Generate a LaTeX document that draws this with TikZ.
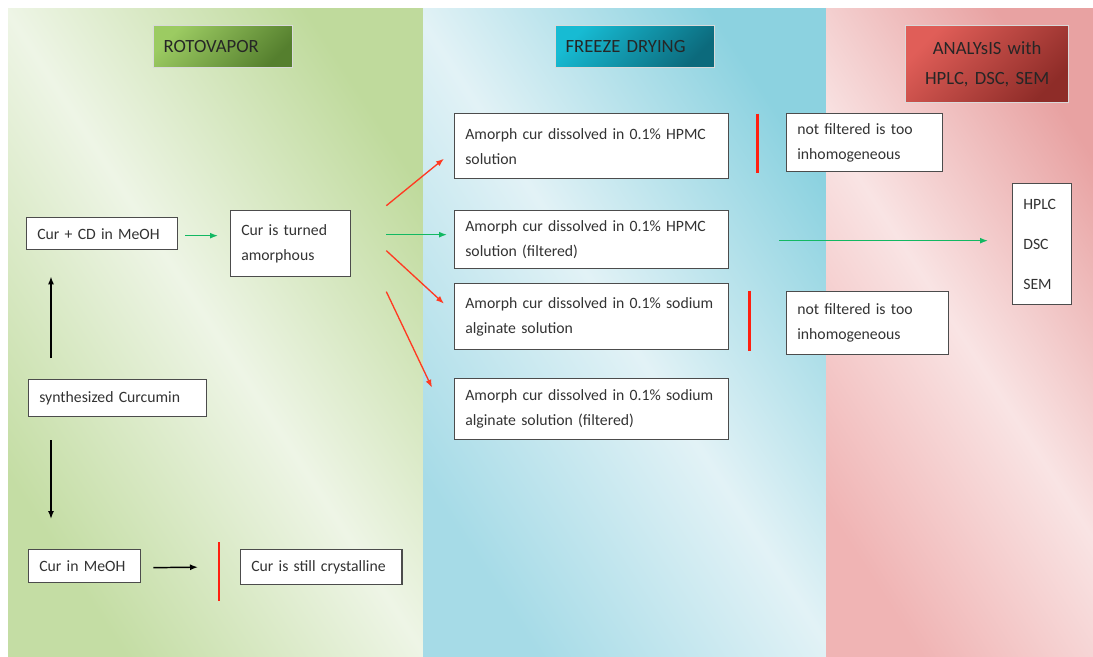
\documentclass[tikz,border=0pt]{standalone}
\usepackage{fontspec,tikz}
\setmainfont{Carlito}
\usetikzlibrary{positioning,calc,arrows.meta}
\tikzset{
	>={Latex[length=6pt,width=4.5pt]},
}
\definecolor{rotolight}{HTML}{9CCB62}
\definecolor{rotodark}{HTML}{557F2E}
\definecolor{frzlight}{HTML}{17BBD3}
\definecolor{frzdark}{HTML}{0C6A7C}
\definecolor{analight}{HTML}{E05E58}
\definecolor{anadark}{HTML}{8E2C28}
\definecolor{grdark}{HTML}{C4DDA4}
\definecolor{grdeep}{HTML}{BFDA9C}
\definecolor{grlight}{HTML}{EEF5E6}
\definecolor{bldark}{HTML}{A6DBE7}
\definecolor{bldeep}{HTML}{8CD2E0}
\definecolor{bllight}{HTML}{E2F2F6}
\definecolor{rddark}{HTML}{F0B4B4}
\definecolor{rddeep}{HTML}{E8A2A2}
\definecolor{rdlight}{HTML}{F9E4E4}
\definecolor{goarrow}{HTML}{12B862}
\definecolor{noarrow}{HTML}{FF3A22}
\definecolor{barred}{HTML}{FF2010}

\begin{document}
\begin{tikzpicture}[x=0.75pt,y=-0.75pt,
		box/.style={rectangle, draw=black!70, line width=1pt, fill=white, inner xsep=8pt, inner ysep=2pt, anchor=north west, align=left, text=black!80, font=\fontsize{11.8}{18.75}\selectfont},
		head/.style 2 args={rectangle, draw=white!85!black, line width=1pt, anchor=north west, inner xsep=7.5pt, text=black!85, font=\fontsize{14}{22.5}\selectfont, top color=#1, bottom color=#2, shading angle=45},
		panel/.style n args={3}{left color=#1, right color=#2, middle color=#3, shading angle=123},
		go/.style={->, draw=goarrow, line width=1.1pt},
		nogo/.style={->, draw=noarrow, line width=1pt},
		flow/.style={->, line width=1.1pt},
		stopbar/.style={draw=barred, line width=2.2pt},
	]
	\useasboundingbox (0,0) rectangle (1093,657);
	% three stages
	\shade[panel={grdark}{grdeep}{grlight}] (8,8) rectangle (423,657);
	\shade[panel={bldark}{bldeep}{bllight}] (423,8) rectangle (826,657);
	\shade[panel={rddark}{rddeep}{rdlight}] (826,8) rectangle (1093,657);

	\path
		node(roto)[head={rotolight}{rotodark}, text width=89.25pt, minimum height=31.5pt] at (153,25) {ROTOVAPOR}
		node(frz)[head={frzlight}{frzdark}, text width=104.25pt, minimum height=31.5pt] at (555,25) {FREEZE DRYING}
		node(ana)[head={analight}{anadark}, text width=107.25pt, minimum height=57.75pt, align=center] at (905,25) {ANALYsIS with\\HPLC, DSC, SEM}
		% rotovapor
		node(cd)[box, text width=97.25pt, minimum height=24pt] at (26,217) {Cur + CD in MeOH}
		node(amorph)[box, text width=74pt, minimum height=49.5pt] at (230,210) {Cur is turned\\amorphous}
		node(synth)[box, text width=117.5pt, minimum height=27.75pt] at (28,379) {synthesized Curcumin}
		node(meoh)[box, text width=68pt, minimum height=24.75pt] at (28,549) {Cur in MeOH}
		node(cryst)[box, text width=105pt, minimum height=26.25pt] at (240,549) {Cur is still crystalline\hfill}
		% freeze drying
		node(hpmc)[box, text width=189.5pt, minimum height=48.75pt] at (454,113) {Amorph cur dissolved in 0.1\% HPMC\\solution}
		node(hpmcf)[box, text width=189.5pt, minimum height=43.5pt] at (454,210) {Amorph cur dissolved in 0.1\% HPMC\\solution (filtered)}
		node(alg)[box, text width=189.5pt, minimum height=49.5pt] at (454,283) {Amorph cur dissolved in 0.1\% sodium\\alginate solution}
		node(algf)[box, text width=189.5pt, minimum height=45.75pt] at (454,378) {Amorph cur dissolved in 0.1\% sodium\\alginate solution (filtered)}
		node(nf1)[box, text width=101pt, minimum height=43.5pt] at (786,113) {not filtered is too\\inhomogeneous}
		node(nf2)[box, text width=105.5pt, minimum height=47.25pt] at (786,291) {not filtered is too\\inhomogeneous}
		% analysis
		node(meth)[box, text width=28pt, minimum height=90.75pt, font=\fontsize{11.8}{30}\selectfont] at (1012,183) {HPLC\\DSC\\SEM}
	;

	\draw[flow] ($(synth.north west)+(23,-21)$) -- ($(cd.south west)+(25,26)$);
	\draw[flow] ($(synth.south west)+(23,23)$) -- ($(meoh.north west)+(23,-30)$);
	\draw[flow] ($(meoh.east)+(12,1.5)$) -- ($(cryst.west)+(-42,0)$);
	\draw[stopbar] ($(cryst.west)+(-21,-25)$) -- ($(cryst.west)+(-21,34)$);
	\draw[go] ($(cd.east)+(7,2)$) -- ($(amorph.west)+(-12,-8)$);

	\draw[nogo] ($(amorph.east)+(35,-38)$) -- ($(hpmc.west)+(-10,12.5)$);
	\draw[go] ($(amorph.east)+(35,-9)$) -- ($(hpmcf.west)+(-7,-5)$);
	\draw[nogo] ($(amorph.east)+(35,7)$) -- ($(alg.west)+(-10,-13)$);
	\draw[nogo] ($(amorph.east)+(35,48)$) -- ($(algf.west)+(-22,-21.5)$);

	\draw[stopbar] ($(hpmc.east)+(28,-32.5)$) -- ($(hpmc.east)+(28,26.5)$);
	\draw[stopbar] ($(alg.east)+(20,-26)$) -- ($(alg.east)+(20,34)$);
	\draw[go] ($(hpmcf.east)+(50,1)$) -- ($(meth.west)+(-24,-3.5)$);
\end{tikzpicture}
\end{document}
